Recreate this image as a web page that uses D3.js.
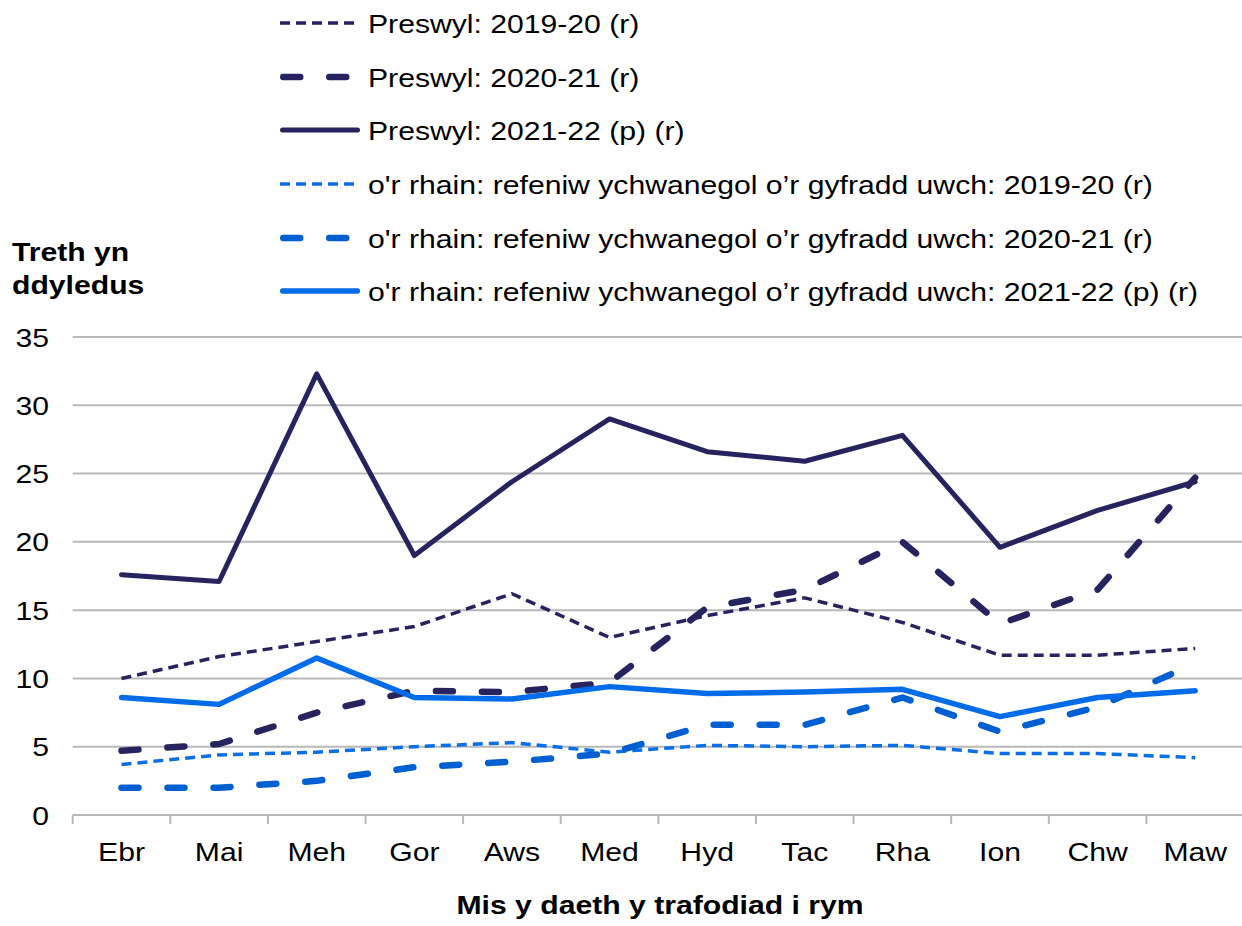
<!DOCTYPE html>
<html>
<head>
<meta charset="utf-8">
<script src="https://cdn.jsdelivr.net/npm/d3@7"></script>
<style>
  html, body { margin: 0; padding: 0; background: #ffffff; }
  svg { display: block; font-family: "Liberation Sans", Arial, sans-serif; }
</style>
</head>
<body>
<svg id="chart" width="1242" height="926"></svg>
<script>
const months = ["Ebr","Mai","Meh","Gor","Aws","Med","Hyd","Tac","Rha","Ion","Chw","Maw"];
const yTicks = [0,5,10,15,20,25,30,35];

const preswyl1920 = [10.0, 11.6, 12.7, 13.8, 16.2, 13.0, 14.6, 15.9, 14.1, 11.7, 11.7, 12.2];
const preswyl2021 = [4.7, 5.2, 7.5, 9.1, 9.0, 9.7, 15.2, 16.5, 20.0, 14.0, 16.5, 24.7];
const preswyl2122 = [17.6, 17.1, 32.3, 19.0, 24.4, 29.0, 26.6, 25.9, 27.8, 19.6, 22.3, 24.4];
const uwch1920 = [3.7, 4.4, 4.6, 5.0, 5.3, 4.6, 5.1, 5.0, 5.1, 4.5, 4.5, 4.2];
const uwch2021 = [2.0, 2.0, 2.5, 3.5, 3.9, 4.5, 6.6, 6.6, 8.6, 6.1, 7.9, 11.1];
const uwch2122 = [8.6, 8.1, 11.5, 8.6, 8.5, 9.4, 8.9, 9.0, 9.2, 7.2, 8.6, 9.1];

const seriesNames = [
  "Preswyl: 2019-20 (r)",
  "Preswyl: 2020-21 (r)",
  "Preswyl: 2021-22 (p) (r)",
  "o'r rhain: refeniw ychwanegol o’r gyfradd uwch: 2019-20 (r)",
  "o'r rhain: refeniw ychwanegol o’r gyfradd uwch: 2020-21 (r)",
  "o'r rhain: refeniw ychwanegol o’r gyfradd uwch: 2021-22 (p) (r)"
];
const seriesValues = [preswyl1920, preswyl2021, preswyl2122, uwch1920, uwch2021, uwch2122];

const dark = "#27235f";
const styles = [
  {color: dark, width: 3.5, dash: "10,6", cap: "butt"},
  {color: dark, width: 6.5, dash: "17,29", cap: "round"},
  {color: dark, width: 5, dash: null, cap: "round"},
  {color: "#0a6ee8", width: 3.5, dash: "10,6", cap: "butt"},
  {color: "#005fd1", width: 6.5, dash: "17,29", cap: "round"},
  {color: "#006ce9", width: 5.5, dash: null, cap: "round"}
];

const FS = 26, SX = 1.16;
const svg = d3.select("#chart");
const plotLeft = 72.7, plotRight = 1244, plotTop = 337, plotBottom = 815;

const x = d3.scaleBand().domain(months).range([plotLeft, plotRight]);
const y = d3.scaleLinear().domain([0, 35]).range([plotBottom, plotTop]);

function txt(g, px, py, s, anchor, bold) {
  return g.append("text")
    .attr("transform", `translate(${px},${py}) scale(${SX},1)`)
    .attr("text-anchor", anchor || "start")
    .attr("font-size", FS)
    .attr("font-weight", bold ? "bold" : "normal")
    .attr("fill", "#000")
    .text(s);
}

// gridlines
svg.append("g").selectAll("line").data(yTicks.filter(d => d > 0)).join("line")
  .attr("x1", plotLeft).attr("x2", 1242)
  .attr("y1", d => y(d)).attr("y2", d => y(d))
  .attr("stroke", "#b8b8b8").attr("stroke-width", 2);

// y tick labels
const yl = svg.append("g");
yTicks.forEach(d => txt(yl, 49, y(d) + 9.5, d, "end"));

// x axis
const xAxis = svg.append("g").attr("transform", `translate(0,${plotBottom})`);
xAxis.append("line").attr("x1", plotLeft).attr("x2", 1242).attr("y1", 0).attr("y2", 0)
  .attr("stroke", "#b8b8b8").attr("stroke-width", 2);
xAxis.selectAll("line.tick").data(months).join("line").attr("class", "tick")
  .attr("x1", d => x(d)).attr("x2", d => x(d))
  .attr("y1", 0).attr("y2", 9)
  .attr("stroke", "#b8b8b8").attr("stroke-width", 2);
months.forEach(m => txt(xAxis, x(m) + x.bandwidth() / 2, 46, m, "middle"));

// lines
const line = d3.line()
  .x((d, i) => x(months[i]) + x.bandwidth() / 2)
  .y(d => y(d));

seriesValues.forEach((vals, k) => {
  const s = styles[k];
  svg.append("path").datum(vals)
    .attr("d", line)
    .attr("fill", "none")
    .attr("stroke", s.color)
    .attr("stroke-width", s.width)
    .attr("stroke-linecap", s.cap)
    .attr("stroke-linejoin", "round")
    .attr("stroke-dasharray", s.dash);
});

// legend
const legendY = [23, 77, 130, 184, 238, 291];
const lg = svg.append("g");
seriesNames.forEach((name, k) => {
  const s = styles[k];
  const off = s.cap === "round" ? s.width / 2 : 0;
  lg.append("line")
    .attr("x1", 280 + off).attr("x2", 360 - off)
    .attr("y1", legendY[k]).attr("y2", legendY[k])
    .attr("stroke", s.color).attr("stroke-width", s.width)
    .attr("stroke-linecap", s.cap)
    .attr("stroke-dasharray", s.dash);
  txt(lg, 368, legendY[k] + 10, name, "start");
});

// axis titles
txt(svg, 12, 261, "Treth yn", "start", true);
txt(svg, 12, 294, "ddyledus", "start", true);
txt(svg, 660, 914, "Mis y daeth y trafodiad i rym", "middle", true);
</script>
</body>
</html>
